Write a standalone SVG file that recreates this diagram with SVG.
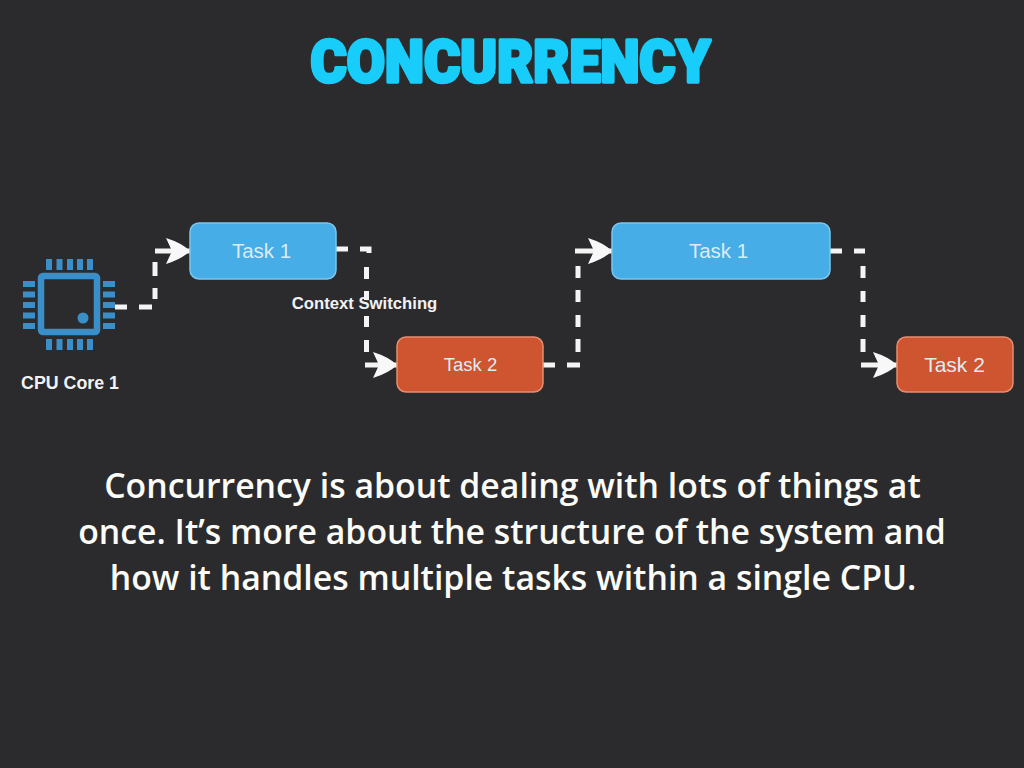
<svg xmlns="http://www.w3.org/2000/svg" width="1024" height="768" viewBox="0 0 1024 768">
<style>
.lbl{font-family:"Liberation Sans",Arial,sans-serif;fill:#f2f2f2}
.task{font-size:20.500px;text-anchor:middle;fill:#dcecf5}
.body{font-family:"Open Sans","Noto Sans",sans-serif;font-size:33.800px;font-weight:600;fill:#fbfbf8;text-anchor:middle}
.title{font-family:"Roboto","Liberation Sans",sans-serif;font-size:60px;font-weight:900;fill:#19cdfb;stroke:#19cdfb;stroke-width:3.500px;stroke-linejoin:round}
.blue{fill:#46ade6;stroke:#7cc6ee;stroke-width:1.500}
.red{fill:#cf5430;stroke:#e58d70;stroke-width:1.500}
.conn{fill:none;stroke:#f4f4f4;stroke-width:5}
.pin{stroke:#3a8fc8;stroke-width:6;fill:none}
</style>
<defs>
<marker id="arrow" markerUnits="userSpaceOnUse" markerWidth="25" markerHeight="26" refX="24" refY="13" orient="auto">
<path d="M0 0 Q16 5 24 13 Q16 21 0 26 L6 13 Z" fill="#f8f8f8"/>
</marker>
</defs>
<rect width="1024" height="768" fill="#2b2b2d"/>
<text id="title" class="title" x="510.500" y="82" text-anchor="middle" textLength="400" lengthAdjust="spacingAndGlyphs">CONCURRENCY</text>
<g id="connectors">
<path class="conn" d="M115 307H127M139 307H152M155 299V288M155 276V262"/>
<path class="conn" d="M155 251H190" marker-end="url(#arrow)"/>
<path class="conn" d="M336 249H348M360 249H369V253M366.500 267V279M366.500 291V300M366.500 316V327M366.500 340V352"/>
<path class="conn" d="M365 365H397" marker-end="url(#arrow)"/>
<path class="conn" d="M543 365H555M567 365H580M578 352V339M578 327V315M578 302V290M578 278V266"/>
<path class="conn" d="M575 251H612" marker-end="url(#arrow)"/>
<path class="conn" d="M830 251H842M854 251H865M863 266V278M863 291V302M863 315V327M863 339V352"/>
<path class="conn" d="M861 365H897" marker-end="url(#arrow)"/>
</g>
<g id="cpu">
<rect x="41" y="276" width="56" height="56" fill="none" stroke="#3a8fc8" stroke-width="6.500" rx="2"/>
<circle cx="83" cy="318" r="5.500" fill="#3a8fc8"/>
<path class="pin" d="M49 259v11M59.500 259v11M70 259v11M80 259v11M90 259v11M49 339v11M59.500 339v11M70 339v11M80 339v11M90 339v11M23 284h12M23 294.500h12M23 305h12M23 315.500h12M23 326h12M103 284h12M103 294.500h12M103 305h12M103 315.500h12M103 326h12"/>
<text class="lbl" x="70" y="389" text-anchor="middle" font-size="17.800" font-weight="700">CPU Core 1</text>
</g>
<g id="task1a"><rect class="blue" x="190" y="223" width="146" height="56" rx="9"/><text class="lbl task" x="261.500" y="258">Task 1</text></g>
<g id="task2a"><rect class="red" x="397" y="337" width="146" height="55" rx="9"/><text class="lbl task" x="470.500" y="371" style="font-size:18.500px">Task 2</text></g>
<g id="task1b"><rect class="blue" x="612" y="223" width="218" height="56" rx="9"/><text class="lbl task" x="718.500" y="258">Task 1</text></g>
<g id="task2b"><rect class="red" x="897" y="337" width="116" height="55" rx="9"/><text class="lbl task" x="954.500" y="372" style="font-size:21px">Task 2</text></g>
<text id="context" class="lbl" x="364.500" y="309" text-anchor="middle" font-size="16.700" font-weight="700">Context Switching</text>
<g id="caption">
<text class="body" x="512.500" y="498">Concurrency is about dealing with lots of things at</text>
<text class="body" x="512" y="544">once. It’s more about the structure of the system and</text>
<text class="body" x="513" y="590">how it handles multiple tasks within a single CPU.</text>
</g>
</svg>
